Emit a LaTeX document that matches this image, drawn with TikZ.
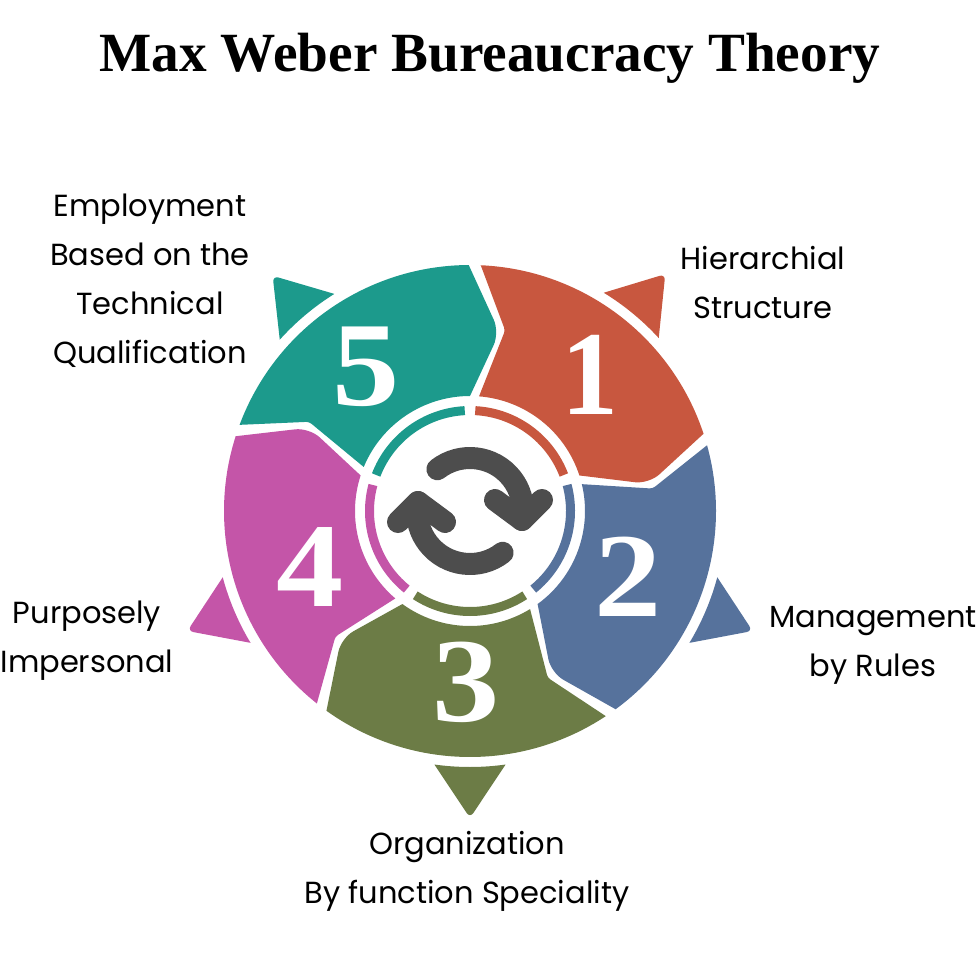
\documentclass[tikz,border=0pt]{standalone}
\usepackage{fontspec}
\setmainfont{Poppins}
\newfontfamily\titlefont{Liberation Serif}
\newfontfamily\numfont[FakeStretch=1.12]{Liberation Serif}
\newfontfamily\onefont[FakeStretch=0.95]{Liberation Serif}
\definecolor{segred}{HTML}{C8573F}
\definecolor{segblue}{HTML}{56729C}
\definecolor{seggreen}{HTML}{6C7C46}
\definecolor{segpink}{HTML}{C455A8}
\definecolor{segteal}{HTML}{1C9A8C}
\definecolor{icongray}{HTML}{4D4D4D}

\begin{document}
\begin{tikzpicture}[x=1pt,y=1pt]
    \tikzstyle{titlecase}=[inner sep=0pt, font=\titlefont\bfseries\fontsize{55.3}{60}\selectfont];
    \tikzstyle{numcase}=[inner sep=0pt, text=white, font=\numfont\bfseries\fontsize{120}{120}\selectfont];
    \tikzstyle{labelcase}=[inner sep=0pt, align=center, font=\fontsize{30.5}{49}\selectfont];
    \tikzstyle{iconline}=[draw=icongray, line width=22pt, line cap=round, line join=round];

    \useasboundingbox (0,0) rectangle (977,-976);
    \node[titlecase] (title) at (490,-58) {Max Weber Bureaucracy Theory};

    % the five blocks, their rings and their triangles
    \begin{scope}[shift={(470,-511)}]
        \foreach \i/\col in {0/segred,1/segblue,2/seggreen,3/segpink,4/segteal} {
            \begin{scope}[rotate=-72*\i]
                \fill[\col] (87.5:246) arc[start angle=87.5, end angle=18.3, radius=246]
                    [rounded corners=14pt] -- (8.6:181) [sharp corners] -- (18:115)
                    arc[start angle=18, end angle=85.5, radius=115]
                    [rounded corners=3pt] -- (79:184) [sharp corners] -- cycle;
                \draw[\col, line width=9pt] (87:100.5) arc[start angle=87, end angle=21, radius=100.5];
            \end{scope}
        }
        \foreach \ang/\col in {39.5/segred,113/segblue,180/seggreen,247/segpink,320/segteal} {
            \begin{scope}[rotate=-\ang]
                \fill[\col] (98:256) [rounded corners=6pt] -- (90:307) [sharp corners] -- (82:256)
                    arc[start angle=82, end angle=98, radius=256] -- cycle;
            \end{scope}
        }
        % two arrows in the middle
        \foreach \r in {0,180} {
            \begin{scope}[rotate=\r]
                \draw[iconline] (128:53) arc[start angle=128, end angle=-5, radius=53] -- (52,-9);
                \draw[iconline] (25,11) -- (52,-9) -- (72,11);
            \end{scope}
        }
    \end{scope}

    \node[numcase, font=\onefont\bfseries\fontsize{120}{120}\selectfont] (num1) at (590,-375) {1};
    \node[numcase] (num2) at (628,-577) {2};
    \node[numcase] (num3) at (466,-682) {3};
    \node[numcase] (num4) at (310,-567) {4};
    \node[numcase] (num5) at (366,-367) {5};

    \node[labelcase] (hierarchial) at (763,-283) {Hierarchial\\Structure};
    \node[labelcase] (management) at (873,-645) {Management\\by Rules};
    \node[labelcase] (organization) at (467,-871) {Organization\\By function Speciality};
    \node[labelcase] (purposely) at (87,-641) {Purposely\\Impersonal};
    \node[labelcase] (employment) at (150,-281) {Employment\\Based on the\\Technical\\Qualification};
\end{tikzpicture}
\end{document}
